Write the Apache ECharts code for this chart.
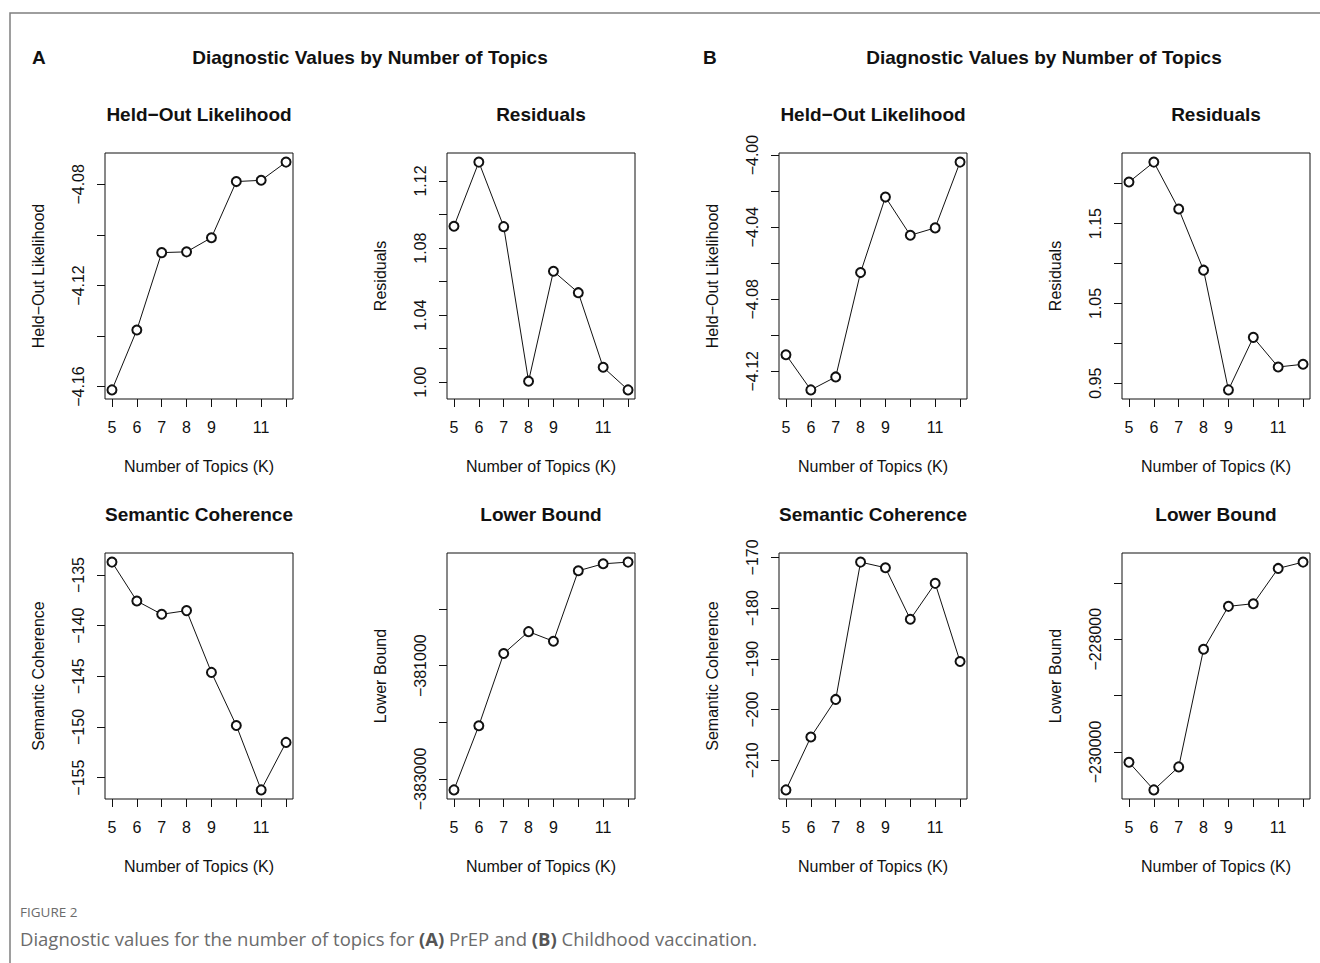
<!DOCTYPE html>
<html>
<head>
<meta charset="utf-8">
<script src="https://cdn.jsdelivr.net/npm/echarts@6/dist/echarts.min.js"></script>
<style>
  html, body { margin: 0; padding: 0; background: #fff; }
  #main { width: 1320px; height: 963px; }
</style>
</head>
<body>
<div id="main"></div>
<script>
// number of topics
const K = [5, 6, 7, 8, 9, 10, 11, 12];
const kTicks = [5, 6, 7, 8, 9, 10, 11, 12];
const kLabels = [5, 6, 7, 8, 9, 11];

// (A) PrEP
const heldOutA = [-4.1613, -4.1376, -4.1070, -4.1067, -4.1011, -4.0789, -4.0784, -4.0712];
const residualsA = [1.0930, 1.1313, 1.0928, 1.0006, 1.0662, 1.0534, 1.0089, 0.9954];
const semCohA = [-133.72, -137.56, -138.87, -138.51, -144.61, -149.85, -156.21, -151.52];
const lowerBoundA = [-383194, -382060, -380786, -380399, -380569, -379324, -379201, -379171];

// (B) Childhood vaccination
const heldOutB = [-4.1108, -4.1303, -4.1231, -4.0652, -4.0233, -4.0445, -4.0404, -4.0039];
const residualsB = [1.2021, 1.2271, 1.1683, 1.0917, 0.9417, 1.0075, 0.9704, 0.9738];
const semCohB = [-215.84, -205.41, -198.00, -170.92, -172.03, -182.20, -175.11, -190.52];
const lowerBoundB = [-230183, -230673, -230265, -228177, -227416, -227369, -226743, -226631];

// y ticks / labels
const heldOutATicks = [-4.16, -4.14, -4.12, -4.10, -4.08];
const heldOutALabels = [-4.16, -4.12, -4.08];
const residualsATicks = [1.00, 1.02, 1.04, 1.06, 1.08, 1.10, 1.12];
const residualsALabels = [1.00, 1.04, 1.08, 1.12];
const semCohATicks = [-155, -150, -145, -140, -135];
const semCohALabels = [-155, -150, -145, -140, -135];
const lowerBoundATicks = [-383000, -382000, -381000, -380000];
const lowerBoundALabels = [-383000, -381000];

const heldOutBTicks = [-4.12, -4.10, -4.08, -4.06, -4.04, -4.02, -4.00];
const heldOutBLabels = [-4.12, -4.08, -4.04, -4.00];
const residualsBTicks = [0.95, 1.00, 1.05, 1.10, 1.15, 1.20];
const residualsBLabels = [0.95, 1.05, 1.15];
const semCohBTicks = [-210, -200, -190, -180, -170];
const semCohBLabels = [-210, -200, -190, -180, -170];
const lowerBoundBTicks = [-230000, -229000, -228000, -227000];
const lowerBoundBLabels = [-230000, -228000];

const FONT = '"Liberation Sans", Arial, Helvetica, sans-serif';
const CAPFONT = '"Open Sans", "Noto Sans", sans-serif';

const panels = [
    { title: 'Held\u2212Out Likelihood', yName: 'Held\u2212Out Likelihood', vals: heldOutA, ticks: heldOutATicks, labels: heldOutALabels, dec: 2, col: 0, row: 0 },
    { title: 'Residuals', yName: 'Residuals', vals: residualsA, ticks: residualsATicks, labels: residualsALabels, dec: 2, col: 1, row: 0 },
    { title: 'Held\u2212Out Likelihood', yName: 'Held\u2212Out Likelihood', vals: heldOutB, ticks: heldOutBTicks, labels: heldOutBLabels, dec: 2, col: 2, row: 0 },
    { title: 'Residuals', yName: 'Residuals', vals: residualsB, ticks: residualsBTicks, labels: residualsBLabels, dec: 2, col: 3, row: 0 },
    { title: 'Semantic Coherence', yName: 'Semantic Coherence', vals: semCohA, ticks: semCohATicks, labels: semCohALabels, dec: 0, col: 0, row: 1 },
    { title: 'Lower Bound', yName: 'Lower Bound', vals: lowerBoundA, ticks: lowerBoundATicks, labels: lowerBoundALabels, dec: 0, col: 1, row: 1 },
    { title: 'Semantic Coherence', yName: 'Semantic Coherence', vals: semCohB, ticks: semCohBTicks, labels: semCohBLabels, dec: 0, col: 2, row: 1 },
    { title: 'Lower Bound', yName: 'Lower Bound', vals: lowerBoundB, ticks: lowerBoundBTicks, labels: lowerBoundBLabels, dec: 0, col: 3, row: 1 }
];

const colLeft = [105, 447, 779, 1122];
const rowTop = [153, 553];
const gw = 188, gh = 246;

// R style axis range: data range plus 4% on each side
function pad(arr) {
    let lo = Math.min.apply(null, arr), hi = Math.max.apply(null, arr);
    let d = (hi - lo) * 0.04;
    return [lo - d, hi + d];
}

let grids = [], xAxes = [], yAxes = [], series = [], graphics = [];
let xr = pad(K);

panels.forEach(function (p, i) {
    let left = colLeft[p.col], top = rowTop[p.row];
    grids.push({
        left: left, top: top, width: gw, height: gh,
        show: true, borderColor: '#111', borderWidth: 1, backgroundColor: 'transparent'
    });
    xAxes.push({
        gridIndex: i, type: 'value', min: xr[0], max: xr[1],
        name: 'Number of Topics (K)', nameLocation: 'middle', nameGap: 59,
        nameTextStyle: { fontFamily: FONT, fontSize: 16, color: '#111' },
        axisLine: { show: false },
        axisTick: { show: true, length: 8, customValues: kTicks, lineStyle: { color: '#111' } },
        axisLabel: { customValues: kLabels, margin: 20, fontFamily: FONT, fontSize: 16, color: '#111' },
        splitLine: { show: false }
    });
    let yr = pad(p.vals);
    yAxes.push({
        gridIndex: i, type: 'value', min: yr[0], max: yr[1],
        name: p.yName, nameLocation: 'middle', nameGap: 59, nameRotate: 90,
        nameTextStyle: { fontFamily: FONT, fontSize: 16, color: '#111' },
        axisLine: { show: false },
        axisTick: { show: true, length: 8, customValues: p.ticks, lineStyle: { color: '#111' } },
        axisLabel: {
            customValues: p.labels, rotate: 90, margin: 19,
            fontFamily: FONT, fontSize: 16, color: '#111',
            formatter: function (v) { return v.toFixed(p.dec).replace('-', '\u2212'); }
        },
        splitLine: { show: false }
    });
    series.push({
        type: 'line', xAxisIndex: i, yAxisIndex: i,
        data: K.map(function (k, j) { return [k, p.vals[j]]; }),
        symbol: 'emptyCircle', symbolSize: 9,
        lineStyle: { color: '#111', width: 1 },
        itemStyle: { color: '#111', borderColor: '#111', borderWidth: 1 },
        animation: false
    });
    graphics.push({
        type: 'text', x: left + gw / 2, y: top - 39,
        style: { text: p.title, font: 'bold 19px ' + FONT, fill: '#111', align: 'center', verticalAlign: 'middle' }
    });
});

// figure headers
graphics.push(
    { type: 'text', x: 32, y: 57, style: { text: 'A', font: 'bold 19px ' + FONT, fill: '#111', align: 'left', verticalAlign: 'middle' } },
    { type: 'text', x: 370, y: 57, style: { text: 'Diagnostic Values by Number of Topics', font: 'bold 19px ' + FONT, fill: '#111', align: 'center', verticalAlign: 'middle' } },
    { type: 'text', x: 703, y: 57, style: { text: 'B', font: 'bold 19px ' + FONT, fill: '#111', align: 'left', verticalAlign: 'middle' } },
    { type: 'text', x: 1044, y: 57, style: { text: 'Diagnostic Values by Number of Topics', font: 'bold 19px ' + FONT, fill: '#111', align: 'center', verticalAlign: 'middle' } }
);

// frame
graphics.push({
    type: 'polyline', shape: { points: [[10, 963], [10, 13], [1320, 13]] },
    style: { stroke: '#7f7f7f', lineWidth: 1.5, fill: null }
});

// caption
graphics.push(
    { type: 'text', x: 20, y: 912, style: { text: 'FIGURE 2', font: '500 13.5px ' + CAPFONT, fill: '#6b6b6b', align: 'left', verticalAlign: 'middle' } },
    {
        type: 'text', x: 20, y: 938,
        style: {
            text: 'Diagnostic values for the number of topics for {b|(A)} PrEP and {b|(B)} Childhood vaccination.',
            font: '18.5px ' + CAPFONT, fill: '#6b6b6b', align: 'left', verticalAlign: 'middle',
            rich: { b: { fontWeight: 'bold', fontSize: 18.5, fontFamily: CAPFONT, fill: '#555' } }
        }
    }
);

var myChart = echarts.init(document.getElementById('main'), null, { renderer: 'svg' });
myChart.setOption({
    backgroundColor: '#fff',
    animation: false,
    grid: grids,
    xAxis: xAxes,
    yAxis: yAxes,
    series: series,
    graphic: graphics
});
</script>
</body>
</html>
